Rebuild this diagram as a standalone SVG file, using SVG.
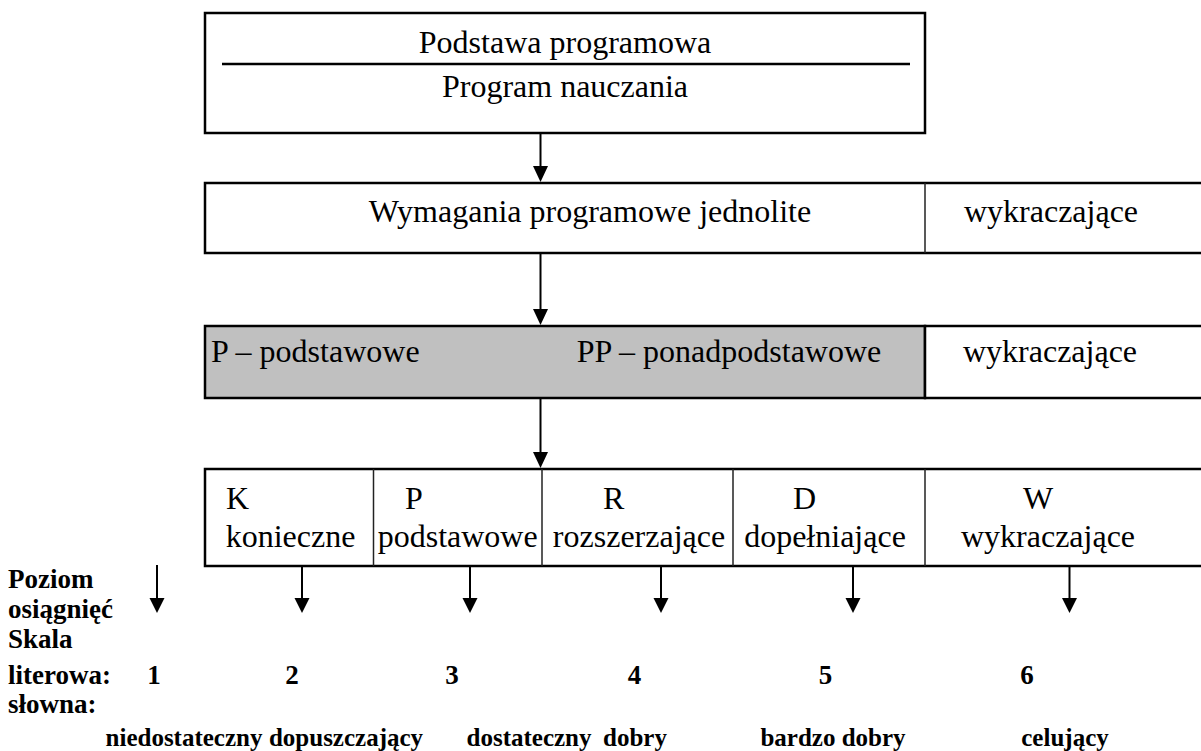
<svg xmlns="http://www.w3.org/2000/svg" width="1201" height="751" viewBox="0 0 1201 751">
<defs>
<style>
.t{font-family:"Liberation Serif","Times New Roman",serif;font-size:32px;fill:#000}
.b{font-family:"Liberation Serif","Times New Roman",serif;font-size:27px;font-weight:bold;fill:#000}
.bs{font-family:"Liberation Serif","Times New Roman",serif;font-size:25px;font-weight:bold;fill:#000}
.m{text-anchor:middle}
.box{fill:#fff;stroke:#000;stroke-width:2.5}
.grey{fill:#c0c0c0;stroke:#000;stroke-width:2.5}
.div{stroke:#222;stroke-width:1.5}
.c{stroke:#000;stroke-width:2;fill:none}
.hd{fill:#000}
</style>
</defs>
<rect width="1201" height="751" fill="#fff"/>

<g id="node-top">
<rect class="box" x="205" y="13" width="720" height="120"/>
<line x1="222" y1="64" x2="910" y2="64" stroke="#000" stroke-width="2.5"/>
<text class="t m" x="565" y="53">Podstawa programowa</text>
<text class="t m" x="565" y="97">Program nauczania</text>
</g>

<g id="node-wymagania">
<rect class="box" x="205" y="183" width="1000" height="70"/>
<line class="div" x1="925" y1="183" x2="925" y2="253"/>
<text class="t m" x="590" y="222">Wymagania programowe jednolite</text>
<text class="t m" x="1051" y="222">wykraczające</text>
</g>

<g id="node-poziomy">
<rect class="grey" x="205" y="326" width="720" height="72"/>
<rect class="box" x="925" y="326" width="280" height="72"/>
<text class="t" x="211" y="362">P – podstawowe</text>
<text class="t m" x="729" y="362">PP – ponadpodstawowe</text>
<text class="t m" x="1050" y="362">wykraczające</text>
</g>

<g id="node-wymagania-szczegolowe">
<rect class="box" x="205" y="469" width="1000" height="97"/>
<line class="div" x1="373.5" y1="469" x2="373.5" y2="566"/>
<line class="div" x1="542" y1="469" x2="542" y2="566"/>
<line class="div" x1="733" y1="469" x2="733" y2="566"/>
<line class="div" x1="925" y1="469" x2="925" y2="566"/>
<text class="t" x="226" y="509">K</text>
<text class="t m" x="290.5" y="547">konieczne</text>
<text class="t" x="405" y="509">P</text>
<text class="t m" x="457.7" y="547">podstawowe</text>
<text class="t" x="603" y="509">R</text>
<text class="t m" x="639" y="547">rozszerzające</text>
<text class="t" x="793" y="509">D</text>
<text class="t m" x="825" y="547">dopełniające</text>
<text class="t" x="1023" y="509">W</text>
<text class="t m" x="1048" y="547">wykraczające</text>
</g>

<g id="labels">
<text class="b" x="8" y="588">Poziom</text>
<text class="b" x="8" y="618">osiągnięć</text>
<text class="b" x="8" y="648">Skala</text>
<text class="b" x="8" y="684">literowa:</text>
<text class="b" x="8" y="713">słowna:</text>
<text class="b m" x="154" y="684">1</text>
<text class="b m" x="292" y="684">2</text>
<text class="b m" x="452" y="684">3</text>
<text class="b m" x="634.6" y="684">4</text>
<text class="b m" x="825.5" y="684">5</text>
<text class="b m" x="1027" y="684">6</text>
<text class="bs m" x="184" y="746">niedostateczny</text>
<text class="bs m" x="346" y="746">dopuszczający</text>
<text class="bs m" x="529" y="746">dostateczny</text>
<text class="bs m" x="635" y="746">dobry</text>
<text class="bs m" x="833" y="746">bardzo dobry</text>
<text class="bs m" x="1065" y="746">celujący</text>
</g>

<g id="connectors">
<line class="c" x1="540.5" y1="133" x2="540.5" y2="168"/>
<path class="hd" d="M533,166 L548,166 L540.5,182 z"/>
<line class="c" x1="540.5" y1="253" x2="540.5" y2="311"/>
<path class="hd" d="M533,309 L548,309 L540.5,325 z"/>
<line class="c" x1="540.5" y1="398" x2="540.5" y2="454"/>
<path class="hd" d="M533,452 L548,452 L540.5,468 z"/>
<line class="c" x1="157" y1="565" x2="157" y2="600"/>
<path class="hd" d="M149.5,598 L164.5,598 L157,613 z"/>
<line class="c" x1="302" y1="566" x2="302" y2="600"/>
<path class="hd" d="M294.5,598 L309.5,598 L302,613 z"/>
<line class="c" x1="470" y1="566" x2="470" y2="600"/>
<path class="hd" d="M462.5,598 L477.5,598 L470,613 z"/>
<line class="c" x1="661" y1="566" x2="661" y2="600"/>
<path class="hd" d="M653.5,598 L668.5,598 L661,613 z"/>
<line class="c" x1="853" y1="566" x2="853" y2="600"/>
<path class="hd" d="M845.5,598 L860.5,598 L853,613 z"/>
<line class="c" x1="1069.5" y1="566" x2="1069.5" y2="600"/>
<path class="hd" d="M1062,598 L1077,598 L1069.5,613 z"/>
</g>
</svg>
